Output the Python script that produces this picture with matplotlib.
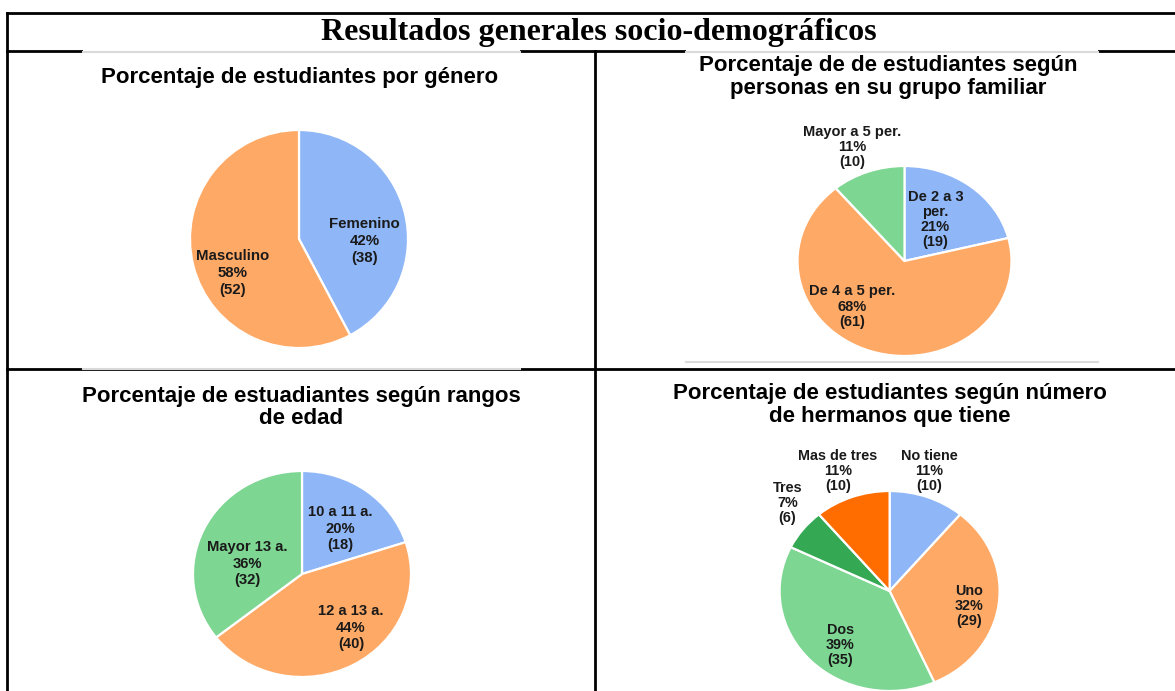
import matplotlib
matplotlib.use("Agg")
import matplotlib.pyplot as plt
from matplotlib.patches import Rectangle

W, H = 1175, 691

# ---- data -------------------------------------------------------------
GENERO_LABELS = ["Femenino", "Masculino"]
GENERO_N = [38, 52]

FAMILIA_LABELS = ["De 2 a 3\nper.", "De 4 a 5 per.", "Mayor a 5 per."]
FAMILIA_N = [19, 61, 10]

EDAD_LABELS = ["10 a 11 a.", "12 a 13 a.", "Mayor 13 a."]
EDAD_N = [18, 40, 32]

HERMANOS_LABELS = ["No tiene", "Uno", "Dos", "Tres", "Mas de tres"]
HERMANOS_N = [10, 29, 35, 6, 10]

# ---- style / layout ---------------------------------------------------
BLUE, ORANGE, GREEN = "#8FB6F7", "#FFA966", "#7DD692"
DGREEN, DORANGE = "#34A853", "#FF6D00"
SANS = ["Liberation Sans", "DejaVu Sans"]
SERIF = ["Liberation Serif", "DejaVu Serif"]

# label block centres, as fractions of the pie radius (x, y)
GENERO_POS = [(0.60, -0.02), (-0.61, -0.31)]
FAMILIA_POS = [(0.29, 0.44), (-0.49, -0.48), (-0.49, 1.20)]
EDAD_POS = [(0.35, 0.44), (0.45, -0.52), (-0.50, 0.10)]
HERMANOS_POS = [(0.36, 1.20), (0.72, -0.15), (-0.45, -0.54), (-0.93, 0.88), (-0.47, 1.20)]


def pie_axes(fig, cx, cy, rx, ry):
    """Axes whose [-1, 1] box maps onto a pixel ellipse centred at (cx, cy)."""
    return fig.add_axes([(cx - rx) / W, 1 - (cy + ry) / H, 2 * rx / W, 2 * ry / H])


def draw_pie(ax, labels, counts, colors, pos, fs, ls):
    total = sum(counts)
    ax.pie(counts, colors=colors, startangle=90, counterclock=False,
           wedgeprops=dict(edgecolor="white", linewidth=1.6))
    ax.set_aspect("auto")
    ax.set_xlim(-1, 1)
    ax.set_ylim(-1, 1)
    for lab, n, (x, y) in zip(labels, counts, pos):
        ax.text(x, y, f"{lab}\n{round(100 * n / total)}%\n({n})", ha="center",
                va="center", fontsize=fs, fontweight="bold", family=SANS,
                color="#1a1a1a", linespacing=ls, clip_on=False)


fig = plt.figure(figsize=(W / 100, H / 100), dpi=100)
bg = fig.add_axes([0, 0, 1, 1])
bg.set_xlim(0, W)
bg.set_ylim(H, 0)
bg.axis("off")

# table grid
lw = 2.0
bg.plot([7, 7], [13, H], color="black", lw=lw)
bg.plot([7, W], [13, 13], color="black", lw=lw)
bg.plot([7, W], [51, 51], color="black", lw=lw)
bg.plot([7, W], [369, 369], color="black", lw=lw)
bg.plot([595, 595], [51, H], color="black", lw=lw)

# pasted chart images cover parts of the grid lines
for x0, y0, x1, y1 in [(83, 51, 520, 369), (686, 51, 1098, 362)]:
    bg.add_patch(Rectangle((x0, y0 - 1), x1 - x0, y1 - y0 + 2, facecolor="white",
                           edgecolor="none", zorder=3))
    bg.plot([x0, x1], [y0 + 1, y0 + 1], color="#d9d9d9", lw=1.5, zorder=4)
    bg.plot([x0, x1], [y1, y1], color="#d9d9d9", lw=1.5, zorder=4)

bg.text(599, 32, "Resultados generales socio-demográficos", ha="center", va="center",
        fontsize=23, fontweight="bold", family=SERIF, zorder=5)

title_kw = dict(ha="center", va="center", fontsize=16, fontweight="bold",
                family=SANS, linespacing=1.12, zorder=5)
bg.text(299.5, 77, "Porcentaje de estudiantes por género", **title_kw)
bg.text(888, 77, "Porcentaje de de estudiantes según\npersonas en su grupo familiar", **title_kw)
bg.text(301.5, 407.5, "Porcentaje de estuadiantes según rangos\nde edad", **title_kw)
bg.text(889.5, 405, "Porcentaje de estudiantes según número\nde hermanos que tiene", **title_kw)

ax1 = pie_axes(fig, 299, 239, 109, 109)
draw_pie(ax1, GENERO_LABELS, GENERO_N, [BLUE, ORANGE], GENERO_POS, 10.8, 1.25)

ax2 = pie_axes(fig, 904.5, 261, 107, 95)
draw_pie(ax2, FAMILIA_LABELS, FAMILIA_N, [BLUE, ORANGE, GREEN], FAMILIA_POS, 10.5, 1.1)

ax3 = pie_axes(fig, 302, 574, 109, 103)
draw_pie(ax3, EDAD_LABELS, EDAD_N, [BLUE, ORANGE, GREEN], EDAD_POS, 10.6, 1.22)

ax4 = pie_axes(fig, 889.6, 591, 110, 100)
draw_pie(ax4, HERMANOS_LABELS, HERMANOS_N, [BLUE, ORANGE, GREEN, DGREEN, DORANGE],
         HERMANOS_POS, 10.4, 1.1)

fig.savefig("out.png", dpi=100)
